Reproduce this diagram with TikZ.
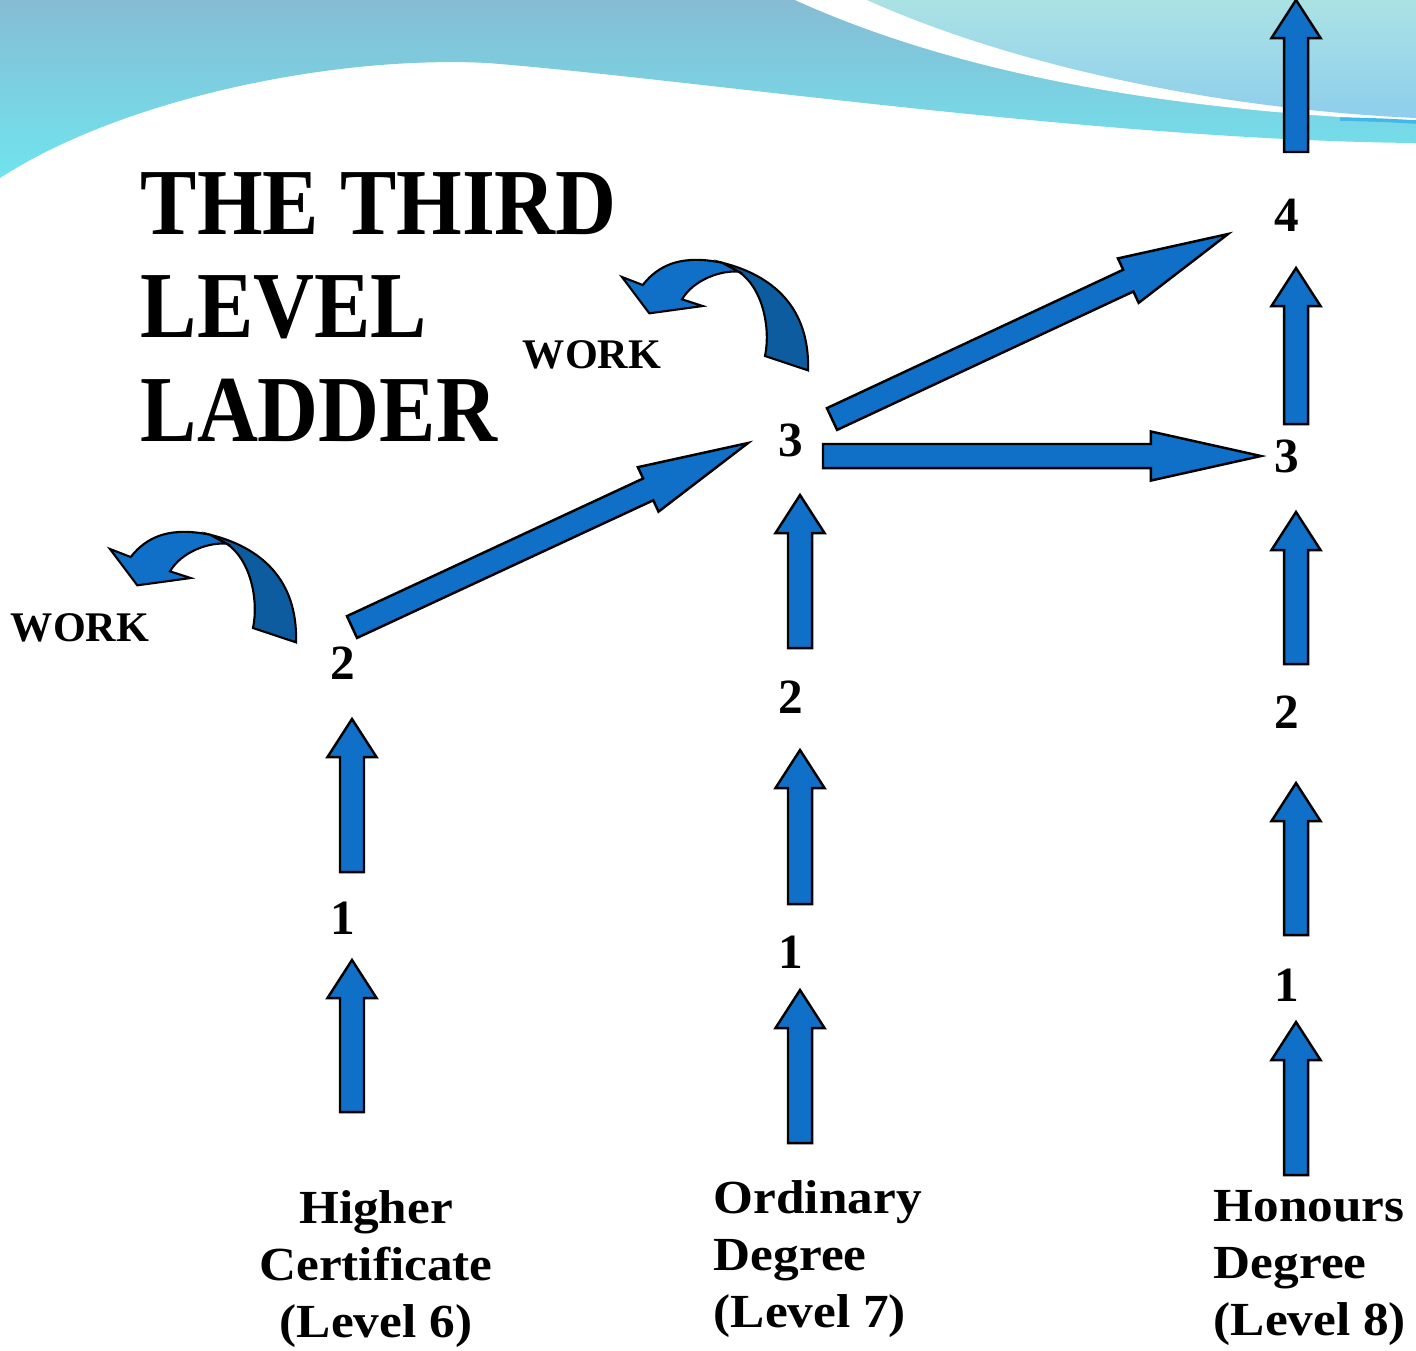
\documentclass[tikz,border=0pt]{standalone}
\usepackage{fontspec}
\setmainfont{Liberation Serif}
\usetikzlibrary{calc}

\definecolor{arrowblue}{RGB}{16,112,200}
\definecolor{arrowdark}{RGB}{14,92,160}
\definecolor{bandtop}{RGB}{134,188,212}
\definecolor{bandbot}{RGB}{112,228,238}
\definecolor{lighttop}{RGB}{170,226,228}
\definecolor{lightbot}{RGB}{142,206,236}
\definecolor{bandline}{RGB}{64,184,232}

% block arrow: tail, tip, head length
\newcommand{\blockarrow}[3]{%
  \coordinate (neck) at ($(#2)!#3!(#1)$);
  \draw[blk] ($(#1)!0.12cm!90:(#2)$) -- ($(neck)!0.12cm!90:(#2)$)
    -- ($(neck)!0.245cm!90:(#2)$) -- (#2) -- ($(neck)!0.245cm!-90:(#2)$)
    -- ($(neck)!0.12cm!-90:(#2)$) -- ($(#1)!0.12cm!-90:(#2)$) -- cycle;
}
% curved arrow, placed by its tip
\newcommand{\workarrow}[1]{%
  \begin{scope}[shift={(#1)}]
    \draw[curv, fill=arrowdark] (100,-14.3) .. controls (150,-2) and (188,30) .. (186,93.3)
      -- (143,79) .. controls (149,50) and (140,10) .. (116.7,-5.3) -- cycle;
    \draw[curv, fill=arrowblue] (0,0) -- (20.7,8) .. controls (38,-14) and (62,-22) .. (100,-14.3)
      -- (116.7,-5.3) .. controls (100,-7) and (72,2) .. (60,22.3)
      -- (80.7,29) -- (27.3,36.3) -- cycle;
  \end{scope}
}

\begin{document}
\begin{tikzpicture}[x=0.01cm, y=-0.01cm,
  blk/.style={fill=arrowblue, draw=black, line width=0.7pt, line join=miter},
  curv/.style={draw=black, line width=0.6pt, line join=miter},
  num/.style={font=\fontsize{14}{16}\selectfont\bfseries, inner sep=0},
  work/.style={font=\fontsize{12}{14}\selectfont\bfseries, inner sep=0},
  deg/.style={font=\fontsize{13.5}{16.2}\selectfont\bfseries, inner sep=0, xscale=1.08},
  title/.style={font=\fontsize{24}{26.2}\selectfont\bfseries, inner sep=0, yscale=1.12, align=left}]
\useasboundingbox (0,0) rectangle (1416,1350);

% background
\fill[white] (0,0) rectangle (1416,1350);
\shade[top color=bandtop, bottom color=bandbot] (0,0) -- (1416,0) -- (1416,143)
  .. controls (1100,140) and (700,80) .. (488,63)
  .. controls (330,55) and (120,100) .. (0,178) -- cycle;
\fill[white] (795,0) .. controls (950,70) and (1150,110) .. (1416,121) -- (1416,0) -- cycle;
\shade[top color=lighttop, bottom color=lightbot] (867,0) .. controls (1000,60) and (1200,108) .. (1416,118) -- (1416,0) -- cycle;
\draw[bandline, line width=1pt] (1340,119) .. controls (1380,120) .. (1416,122);

% labels
\node[title, anchor=north west] (title) at (140,172) {THE THIRD\\LEVEL\\LADDER};
\node[work] (w1) at (80,628) {WORK};
\node[work] (w2) at (592,355) {WORK};

\node[num] (a2) at (343,663) {2};
\node[num] (a1) at (343,918) {1};
\node[num] (b3) at (791,440) {3};
\node[num] (b2) at (791,697) {2};
\node[num] (b1) at (791,952) {1};
\node[num] (c4) at (1287,215) {4};
\node[num] (c3) at (1287,456) {3};
\node[num] (c2) at (1287,712) {2};
\node[num] (c1) at (1287,985) {1};

\node[deg, anchor=north, align=center] (hc) at (376,1190) {Higher\\Certificate\\(Level 6)};
\node[deg, anchor=north west, align=left] (od) at (713,1180) {Ordinary\\Degree\\(Level 7)};
\node[deg, anchor=north west, align=left] (hd) at (1213,1190) {Honours\\Degree\\(Level 8)};

% up arrows
\foreach \x/\a/\b in {352/1112/960, 352/872/719, 800/1143/990, 800/904/750, 800/648/495,
    1296/1175/1022, 1296/935/783, 1296/664/512, 1296/424/268, 1296/152/0} {
  \coordinate (from) at (\x,\a);
  \coordinate (to) at (\x,\b);
  \blockarrow{from}{to}{0.38cm}
}

% long arrows
\coordinate (d1s) at (352,627);
\coordinate (d1t) at (748,443);
\coordinate (d2s) at (832,419);
\coordinate (d2t) at (1228,234);
\coordinate (hs) at (823,456);
\coordinate (ht) at (1261,456);
\blockarrow{d1s}{d1t}{1.1cm}
\blockarrow{d2s}{d2t}{1.1cm}
\blockarrow{hs}{ht}{1.1cm}

% work arrows
\workarrow{110,549}
\workarrow{622,277}
\end{tikzpicture}
\end{document}
